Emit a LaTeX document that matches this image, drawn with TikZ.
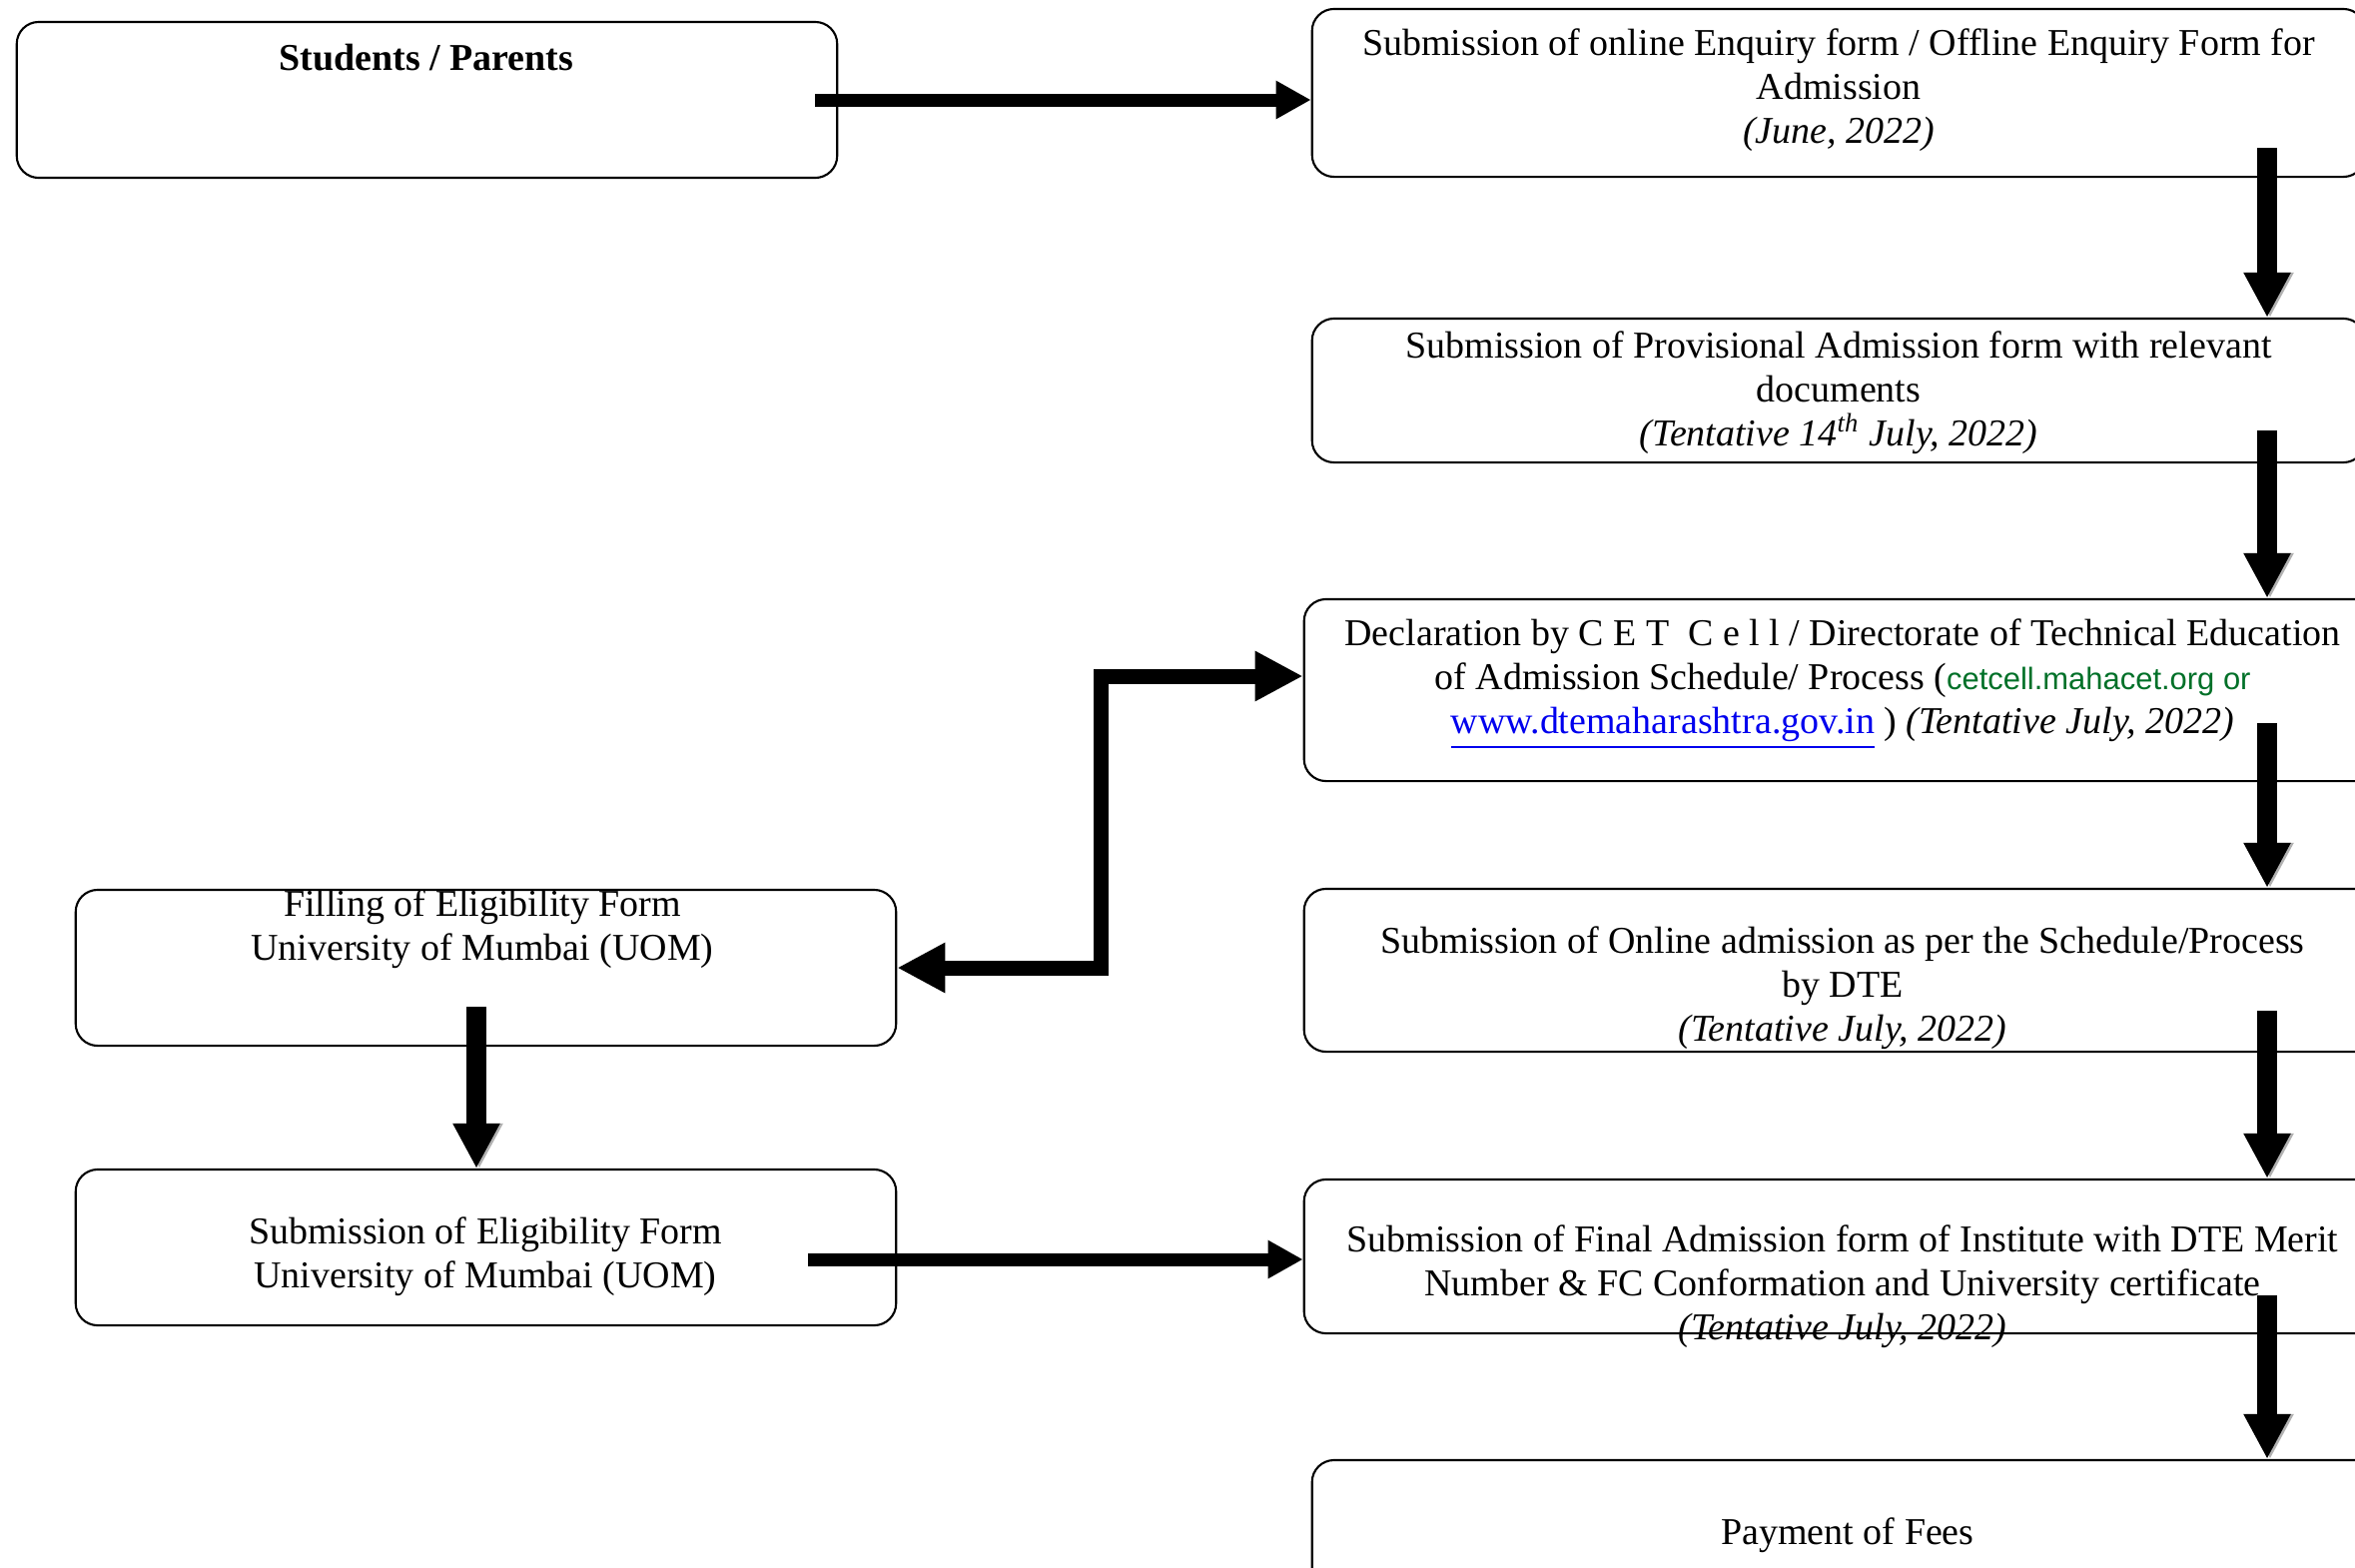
\documentclass[tikz,border=0pt]{standalone}
\usepackage{fontspec}
\setmainfont{Liberation Serif}
\newfontfamily\linkfont{Liberation Sans}
\usetikzlibrary{calc, arrows.meta}
\definecolor{linkgreen}{RGB}{0,112,40}
\definecolor{linkblue}{RGB}{0,0,238}

\begin{document}
\begin{tikzpicture}[x=0.01cm, y=-0.01cm]
	\tikzstyle{stepbox}=[
	draw,
	rectangle,
	rounded corners=0.22cm,
	line width=0.6pt,
	inner sep=0pt
	]
	\tikzstyle{steptext}=[
	align=center,
	inner sep=0pt,
	font=\fontsize{10.8}{12.5}\selectfont
	]
	\tikzstyle{sidearrow}=[line width=0.13cm, -{Triangle[length=0.35cm, width=0.36cm]}]
	\tikzstyle{downarrow}=[line width=0.2cm, -{Triangle[length=0.45cm, width=0.44cm]},
	preaction={draw=black!30, transform canvas={xshift=0.03cm}}]
	\tikzstyle{elbowarrow}=[line width=0.15cm,
	{Triangle[length=0.48cm, width=0.47cm]}-{Triangle[length=0.48cm, width=0.47cm]}]
	\useasboundingbox (0,0) rectangle (2358,1569);
	\clip (0,0) rectangle (2358,1569);
	% boxes
	\node[stepbox, minimum width=8.21cm, minimum height=1.56cm] (stud) at (427.5,100) {};
	\node[stepbox, minimum width=10.54cm, minimum height=1.68cm] (enq) at (1841,93) {};
	\node[stepbox, minimum width=10.54cm, minimum height=1.44cm] (prov) at (1841,391) {};
	\node[stepbox, minimum width=10.78cm, minimum height=1.82cm] (decl) at (1845,691) {};
	\node[stepbox, minimum width=10.78cm, minimum height=1.63cm] (onl) at (1845,971.5) {};
	\node[stepbox, minimum width=10.78cm, minimum height=1.54cm] (fin) at (1845,1258) {};
	\node[stepbox, minimum width=10.72cm, minimum height=1.40cm] (pay) at (1850,1532) {};
	\node[stepbox, minimum width=8.21cm, minimum height=1.56cm] (fill) at (486.5,969) {};
	\node[stepbox, minimum width=8.21cm, minimum height=1.56cm] (sub) at (486.5,1249) {};
	% texts
	\node[steptext] (stud-t) at (427,58) {\textbf{Students / Parents}};
	\node[steptext] (enq-t) at (1841,90) {Submission of online Enquiry form / Offline Enquiry Form for\\ Admission\\ \textit{(June, 2022)}};
	\node[steptext] (prov-t) at (1841,393) {Submission of Provisional Admission form with relevant\\ documents\\ \textit{(Tentative 14\textsuperscript{th} July, 2022)}};
	\node[steptext] (decl-t) at (1845,685) {Declaration by {\addfontfeature{LetterSpace=25}CET Cell} / Directorate of Technical Education\\ of Admission Schedule/ Process ({\linkfont\fontsize{8.8}{12.5}\selectfont\color{linkgreen}cetcell.mahacet.org or}\\ {\color{linkblue}\underline{www.dtemaharashtra.gov.in}} ) \textit{(Tentative July, 2022)}};
	\node[steptext] (onl-t) at (1845,989) {Submission of Online admission as per the Schedule/Process\\ by DTE\\ \textit{(Tentative July, 2022)}};
	\node[steptext] (fin-t) at (1845,1288) {Submission of Final Admission form of Institute with DTE Merit\\ Number \& FC Conformation and University certificate\\ \textit{(Tentative July, 2022)}};
	\node[steptext] (pay-t) at (1850,1537) {Payment of Fees};
	\node[steptext] (fill-t) at (483,930) {Filling of Eligibility Form\\ University of Mumbai (UOM)};
	\node[steptext] (sub-t) at (486,1258) {Submission of Eligibility Form\\ University of Mumbai (UOM)};
	% connectors
	\coordinate (rx) at (2270,0);
	\coordinate (ebend) at (1102,677);
	\draw[sidearrow] ($(stud.east)+(-23,0)$) -- (stud.east -| enq.west);
	\draw[downarrow] ($(enq.south -| rx)+(0,-30)$) -- (prov.north -| rx);
	\draw[downarrow] ($(prov.south -| rx)+(0,-33)$) -- (decl.north -| rx);
	\draw[downarrow] ($(decl.south -| rx)+(0,-59)$) -- (onl.north -| rx);
	\draw[downarrow] ($(onl.south -| rx)+(0,-42)$) -- (fin.north -| rx);
	\draw[downarrow] ($(fin.south -| rx)+(0,-39)$) -- (pay.north -| rx);
	\draw[downarrow] ($(fill.south)+(-9.5,-40)$) -- ($(sub.north)+(-9.5,0)$);
	\draw[elbowarrow] (fill.east) -| (ebend) -- (ebend -| decl.west);
	\draw[sidearrow] ($(sub.east)+(-89,12)$) -- ($(sub.east -| fin.west)+(0,12)$);
\end{tikzpicture}
\end{document}
